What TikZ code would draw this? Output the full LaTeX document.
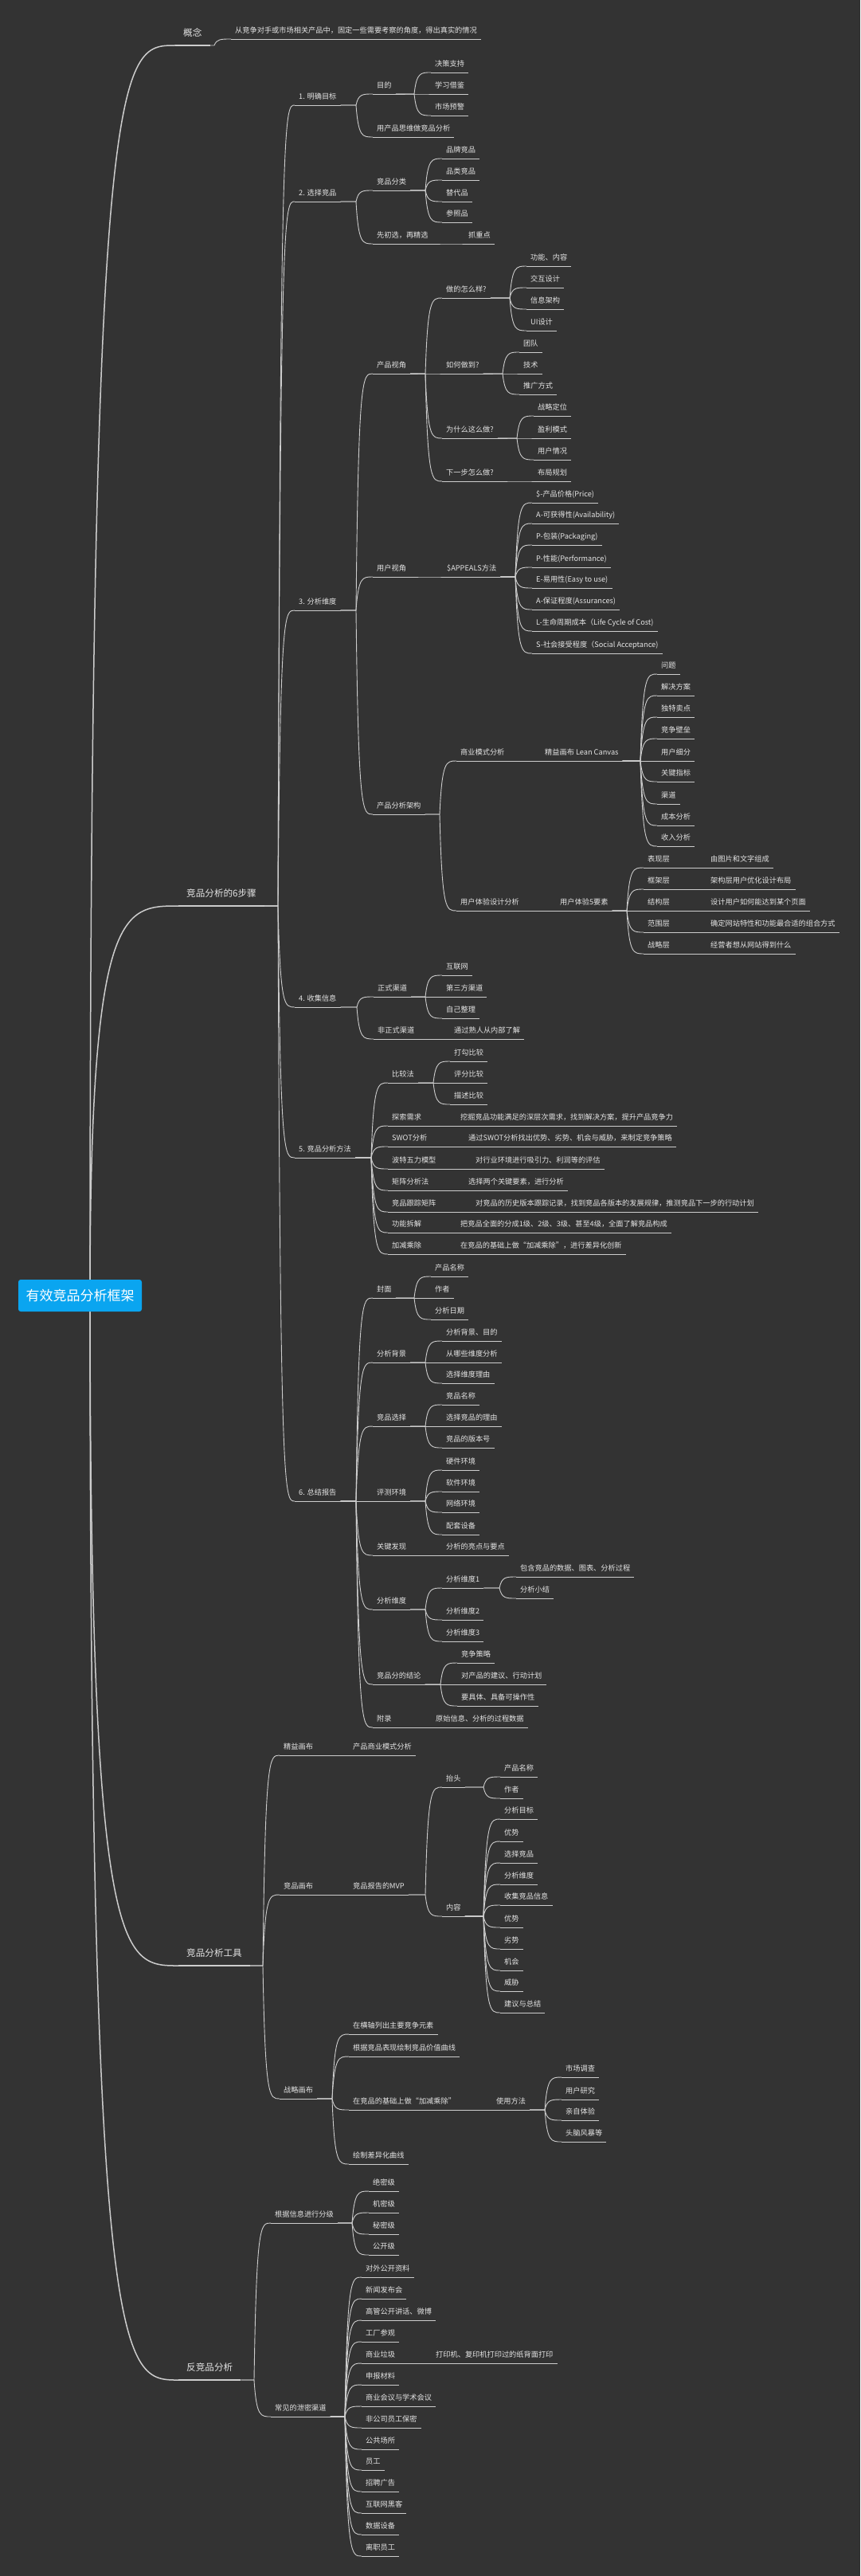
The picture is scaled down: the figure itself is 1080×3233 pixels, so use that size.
\documentclass[tikz,border=0pt]{standalone}
\usepackage{fontspec}
\setmainfont{Noto Sans CJK SC}
\usetikzlibrary{calc}
\definecolor{bg}{RGB}{51,51,51}
\definecolor{lnc}{RGB}{205,205,205}
\definecolor{txt}{RGB}{228,228,228}
\definecolor{rootc}{RGB}{10,165,240}
\tikzset{
  ln/.style={draw=lnc,line width=0.9pt},
  ln1/.style={draw=lnc,line width=1.5pt},
  nd/.style={anchor=south west,inner xsep=5pt,inner ysep=5.5pt,text height=7pt,text depth=2pt,
    font=\fontsize{9.2}{11}\selectfont,text=txt,
    append after command={(\tikzlastnode.south west) edge[ln] (\tikzlastnode.south east)}},
  l1/.style={anchor=south west,inner xsep=10pt,inner ysep=8.5pt,text height=9pt,text depth=3pt,
    font=\fontsize{11.6}{13}\selectfont,text=txt,
    append after command={(\tikzlastnode.south west) edge[ln1] (\tikzlastnode.south east)}},
  root/.style={fill=rootc,rounded corners=3pt,text=white,font=\fontsize{17}{20}\selectfont,
    minimum width=155pt,minimum height=40pt,inner sep=0pt}
}
\newcommand\lk[2]{\draw[ln] let \p1=(#1.south east), \p2=(#2.south west) in
  (\p1) -- (\x2-21pt,\y1) .. controls (\x2-18pt,\y2) and (\x2-13pt,\y2) .. (\p2);}
\newcommand\C[5]{\node[nd] (#2) at (#3-5,#4) {#5}; \lk{#1}{#2}}
\newcommand\Lone[4]{\node[l1] (#1) at (#2-10,#3) {#4};}
\newcommand\rl[1]{\draw[ln1] (rc) .. controls (rc |- #1.south west) and ($(#1.south west)+(-70,0)$) .. (#1.south west);}
\begin{document}
\begin{tikzpicture}[x=1pt,y=-1pt]
\fill[bg] (0,0) rectangle (1080,3233);
\useasboundingbox (0,0) rectangle (1080,3233);
\coordinate (rc) at (113,1626);
% level 1
\Lone{gn}{230}{57}{概念}
\Lone{bz}{234}{1137}{竞品分析的6步骤}
\Lone{gj}{234}{2467}{竞品分析工具}
\Lone{fj}{234}{2987}{反竞品分析}
\rl{gn}\rl{bz}\rl{gj}\rl{fj}
% concept
\C{gn}{gn1}{295}{49}{从竞争对手或市场相关产品中，固定一些需要考察的角度，得出真实的情况}
% step 1
\C{bz}{s1}{375}{132}{1. 明确目标}
\C{s1}{s1a}{473}{118}{目的}
\foreach \y/\t [count=\i] in {91/决策支持,118/学习借鉴,145/市场预警}{\C{s1a}{s1a\i}{546}{\y}{\t}}
\C{s1}{s1b}{473}{172}{用产品思维做竞品分析}
% step 2
\C{bz}{s2}{375}{253}{2. 选择竞品}
\C{s2}{s2a}{473}{239}{竞品分类}
\foreach \y/\t [count=\i] in {199/品牌竞品,226/品类竞品,253/替代品,279/参照品}{\C{s2a}{s2a\i}{560}{\y}{\t}}
\C{s2}{s2b}{473}{306}{先初选，再精选}
\C{s2b}{s2b1}{588}{306}{抓重点}
% step 3
\C{bz}{s3}{375}{766}{3. 分析维度}
\C{s3}{s3a}{473}{469}{产品视角}
\C{s3a}{q1}{560}{374}{做的怎么样?}
\foreach \y/\t [count=\i] in {334/功能、内容,361/交互设计,388/信息架构,415/UI设计}{\C{q1}{q1\i}{666}{\y}{\t}}
\C{s3a}{q2}{560}{469}{如何做到?}
\foreach \y/\t [count=\i] in {442/团队,469/技术,495/推广方式}{\C{q2}{q2\i}{657}{\y}{\t}}
\C{s3a}{q3}{560}{550}{为什么这么做?}
\foreach \y/\t [count=\i] in {522/战略定位,550/盈利模式,577/用户情况}{\C{q3}{q3\i}{675}{\y}{\t}}
\C{s3a}{q4}{560}{604}{下一步怎么做?}
\C{q4}{q41}{675}{604}{布局规划}
\C{s3}{s3b}{473}{724}{用户视角}
\C{s3b}{ap}{561}{724}{\$APPEALS方法}
\foreach \y/\t [count=\i] in {631/{\$-产品价格(Price)},657/{A-可获得性(Availability)},684/{P-包装(Packaging)},712/{P-性能(Performance)},738/{E-易用性(Easy to use)},765/{A-保证程度(Assurances)},792/{L-生命周期成本（Life Cycle of Cost)},820/{S-社会接受程度（Social Acceptance)}}{\C{ap}{ap\i}{673}{\y}{\t}}
\C{s3}{s3c}{473}{1022}{产品分析架构}
\C{s3c}{bm}{578}{955}{商业模式分析}
\C{bm}{lc}{684}{955}{精益画布 Lean Canvas}
\foreach \y/\t [count=\i] in {846/问题,873/解决方案,900/独特卖点,927/竞争壁垒,955/用户细分,981/关键指标,1009/渠道,1036/成本分析,1062/收入分析}{\C{lc}{lc\i}{830}{\y}{\t}}
\C{s3c}{ux}{578}{1143}{用户体验设计分析}
\C{ux}{u5}{703}{1143}{用户体验5要素}
\foreach \y/\t/\d [count=\i] in {1089/表现层/由图片和文字组成,1116/框架层/架构层用户优化设计布局,1143/结构层/设计用户如何能达到某个页面,1170/范围层/确定网站特性和功能最合适的组合方式,1197/战略层/经营者想从网站得到什么}{\C{u5}{u5\i}{813}{\y}{\t}\C{u5\i}{u5d\i}{892}{\y}{\d}}
% step 4
\C{bz}{s4}{375}{1264}{4. 收集信息}
\C{s4}{s4a}{474}{1251}{正式渠道}
\foreach \y/\t [count=\i] in {1224/互联网,1251/第三方渠道,1278/自己整理}{\C{s4a}{s4a\i}{560}{\y}{\t}}
\C{s4}{s4b}{474}{1304}{非正式渠道}
\C{s4b}{s4b1}{570}{1304}{通过熟人从内部了解}
% step 5
\C{bz}{s5}{375}{1453}{5. 竞品分析方法}
\C{s5}{m1}{492}{1359}{比较法}
\foreach \y/\t [count=\i] in {1332/打勾比较,1359/评分比较,1386/描述比较}{\C{m1}{m1\i}{570}{\y}{\t}}
\foreach \y/\t/\x/\d [count=\i] in {1413/探索需求/578/{挖掘竞品功能满足的深层次需求，找到解决方案，提升产品竞争力},1439/SWOT分析/588/{通过SWOT分析找出优势、劣势、机会与威胁，来制定竞争策略},1467/波特五力模型/597/{对行业环境进行吸引力、利润等的评估},1494/矩阵分析法/588/{选择两个关键要素，进行分析},1521/竞品跟踪矩阵/597/{对竞品的历史版本跟踪记录，找到竞品各版本的发展规律，推测竞品下一步的行动计划},1547/功能拆解/578/{把竞品全面的分成1级、2级、3级、甚至4级，全面了解竞品构成},1574/加减乘除/578/{在竞品的基础上做“加减乘除”，进行差异化创新}}{\C{s5}{mm\i}{492}{\y}{\t}\C{mm\i}{mmd\i}{\x}{\y}{\d}}
% step 6
\C{bz}{s6}{375}{1884}{6. 总结报告}
\C{s6}{r1}{473}{1629}{封面}
\foreach \y/\t [count=\i] in {1602/产品名称,1629/作者,1656/分析日期}{\C{r1}{r1\i}{546}{\y}{\t}}
\C{s6}{r2}{473}{1710}{分析背景}
\foreach \y/\t [count=\i] in {1683/分析背景、目的,1710/从哪些维度分析,1736/选择维度理由}{\C{r2}{r2\i}{560}{\y}{\t}}
\C{s6}{r3}{473}{1790}{竞品选择}
\foreach \y/\t [count=\i] in {1763/竞品名称,1790/选择竞品的理由,1817/竞品的版本号}{\C{r3}{r3\i}{560}{\y}{\t}}
\C{s6}{r4}{473}{1884}{评测环境}
\foreach \y/\t [count=\i] in {1845/硬件环境,1872/软件环境,1898/网络环境,1926/配套设备}{\C{r4}{r4\i}{560}{\y}{\t}}
\C{s6}{r5}{473}{1952}{关键发现}
\C{r5}{r51}{560}{1952}{分析的亮点与要点}
\C{s6}{r6}{473}{2020}{分析维度}
\C{r6}{d1}{560}{1993}{分析维度1}
\C{d1}{d11}{653}{1979}{包含竞品的数据、图表、分析过程}
\C{d1}{d12}{653}{2006}{分析小结}
\C{r6}{d2}{560}{2033}{分析维度2}
\C{r6}{d3}{560}{2060}{分析维度3}
\C{s6}{r7}{473}{2114}{竞品分的结论}
\foreach \y/\t [count=\i] in {2087/竞争策略,2114/对产品的建议、行动计划,2141/要具体、具备可操作性}{\C{r7}{r7\i}{579}{\y}{\t}}
\C{s6}{r8}{473}{2168}{附录}
\C{r8}{r81}{547}{2168}{原始信息、分析的过程数据}
% tools
\C{gj}{t1}{356}{2203}{精益画布}
\C{t1}{t11}{443}{2203}{产品商业模式分析}
\C{gj}{t2}{356}{2378}{竞品画布}
\C{t2}{mvp}{443}{2378}{竞品报告的MVP}
\C{mvp}{tt}{560}{2243}{抬头}
\foreach \y/\t [count=\i] in {2230/产品名称,2257/作者}{\C{tt}{tt\i}{633}{\y}{\t}}
\C{mvp}{tn}{560}{2405}{内容}
\foreach \y/\t [count=\i] in {2283/分析目标,2311/优势,2338/选择竞品,2365/分析维度,2391/收集竞品信息,2419/优势,2446/劣势,2473/机会,2499/威胁,2526/建议与总结}{\C{tn}{tn\i}{633}{\y}{\t}}
\C{gj}{t3}{356}{2634}{战略画布}
\C{t3}{t31}{443}{2553}{在横轴列出主要竞争元素}
\C{t3}{t32}{443}{2581}{根据竞品表现绘制竞品价值曲线}
\C{t3}{t33}{443}{2648}{在竞品的基础上做“加减乘除”}
\C{t33}{use}{623}{2648}{使用方法}
\foreach \y/\t [count=\i] in {2607/市场调查,2635/用户研究,2661/亲自体验,2688/头脑风暴等}{\C{use}{use\i}{710}{\y}{\t}}
\C{t3}{t34}{443}{2716}{绘制差异化曲线}
% anti
\C{fj}{f1}{345}{2790}{根据信息进行分级}
\foreach \y/\t [count=\i] in {2750/绝密级,2777/机密级,2804/秘密级,2830/公开级}{\C{f1}{f1\i}{468}{\y}{\t}}
\C{fj}{f2}{345}{3033}{常见的泄密渠道}
\foreach \y/\t [count=\i] in {2858/对外公开资料,2885/新闻发布会,2912/高管公开讲话、微博,2939/工厂参观,2966/商业垃圾,2993/申报材料,3020/商业会议与学术会议,3047/非公司员工保密,3074/公共场所,3100/员工,3127/招聘广告,3154/互联网黑客,3181/数据设备,3208/离职员工}{\C{f2}{f2\i}{459}{\y}{\t}}
\C{f25}{f25d}{547}{2966}{打印机、复印机打印过的纸背面打印}
% root
\node[root] (rt) at (100.5,1626) {有效竞品分析框架};
\end{tikzpicture}
\end{document}
